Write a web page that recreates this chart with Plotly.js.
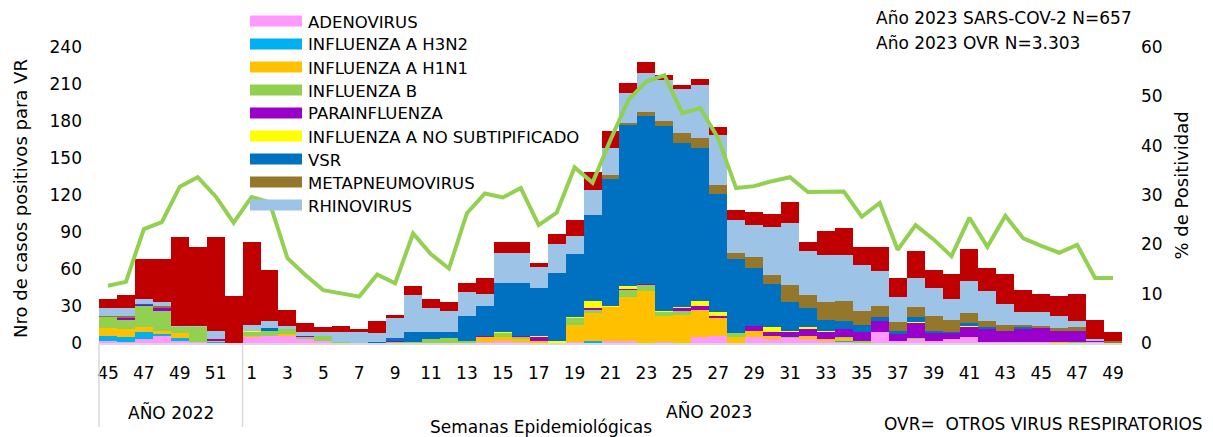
<!DOCTYPE html>
<html><head><meta charset="utf-8">
<script src="https://cdn.plot.ly/plotly-3.0.1.min.js"></script>
<style>html,body{margin:0;padding:0;background:#fff}#chart{width:1213px;height:437px}</style>
</head><body><div id="chart"></div>
<script>
// ---- categories ----
const weeks2022 = [45,46,47,48,49,50,51,52];
const weeks2023 = [1,2,3,4,5,6,7,8,9,10,11,12,13,14,15,16,17,18,19,20,21,22,23,24,25,26,27,28,29,30,31,32,33,34,35,36,37,38,39,40,41,42,43,44,45,46,47,48,49];
const tickWeeks = ['45','47','49','51','1','3','5','7','9','11','13','15','17','19','21','23','25','27','29','31','33','35','37','39','41','43','45','47','49'];

// ---- series (2022 wk45-52, then 2023 wk1-49) ----
const adenovirus = [2,1,3,6,2,1,0,0, 5,6,6,3,2,0,0,0,0,0, 0,0,0,1,2,1,0,0,1,0, 2,2,0,1,0,5,6,0,5,3, 4,3,2,1,0,9,2,3,2,3, 5,1,1,1,1,0,0,1,0];
const h3n2 = [4,4,6,1,2,0,1,0, 0,0,0,0,0,0,0,0,0,0, 0,0,0,0,0,0,0,0,0,2, 0,0,0,0,0,0,0,0,0,0, 0,0,0,1,0,0,0,0,0,0, 0,0,0,0,0,0,0,0,0];
const h1n1 = [6,6,4,3,4,0,1,0, 1,0,1,0,0,0,0,0,0,0, 0,0,0,4,3,2,2,0,14,22, 27,35,42,21,23,22,14,5,5,3, 0,3,1,2,0,0,0,0,0,0, 0,0,0,0,0,1,0,0,0];
const influenzaB = [9,8,17,16,5,12,0,0, 3,4,4,2,4,1,0,0,1,1, 3,4,2,0,3,2,0,0,5,3, 0,6,5,3,3,0,0,3,0,0, 1,0,0,1,2,0,0,1,0,0, 0,0,0,0,0,0,1,0,0];
const parainfluenza = [0,1,1,2,0,0,1,0, 0,0,0,1,0,0,0,0,1,0, 0,0,0,1,0,1,3,0,0,1, 0,1,1,0,2,3,2,0,4,3, 4,5,6,6,7,9,5,12,6,5, 8,10,9,10,11,9,9,1,0];
const noSubtipificado = [0,0,0,0,0,0,0,0, 1,0,0,0,0,0,0,0,0,0, 0,0,0,0,1,0,1,2,1,6, 1,2,0,1,1,4,3,0,0,4, 1,2,1,0,0,0,0,1,0,0, 1,0,0,0,0,0,0,0,0];
const vsr = [0,0,1,0,0,0,0,0, 0,2,0,0,0,0,0,1,2,8, 6,5,20,24,40,43,39,55,51,70, 103,131,136,150,133,124,96,60,47,35, 23,15,9,7,6,3,3,4,2,1, 2,2,0,2,0,0,0,0,0];
const metapneumovirus = [1,2,0,2,0,0,0,0, 0,0,0,0,0,0,0,0,0,0, 0,0,0,0,0,0,0,0,0,0, 3,1,3,4,8,8,7,5,9,7, 14,11,14,16,11,9,7,8,12,10, 8,5,5,2,2,2,3,0,2];
const rhinovirus = [6,6,4,3,1,1,7,0, 5,6,3,3,3,8,9,7,16,30, 19,17,19,10,24,24,17,23,15,20, 22,25,32,33,36,43,41,27,26,39, 50,36,38,37,37,28,20,24,23,17, 26,24,17,10,11,10,5,1,0];
const sarsCov2 = [8,11,32,35,72,64,76,38, 67,41,13,7,4,5,2,10,3,7, 8,7,8,13,9,9,3,8,13,15, 14,8,9,4,3,5,6,8,10,11, 17,7,20,22,15,20,16,22,14,20, 26,19,24,18,15,16,22,16,7];
const positividad = [11.6,12.4,23.1,24.5,31.7,33.6,29.7,24.4, 29.6,28.5,17.2,13.8,10.7,10.1,9.4,13.9,12.1,22.2, 18.0,15.1,26.3,30.3,29.5,31.4,23.9,26.4,35.6,32.5, 41.2,49.3,53.0,54.3,46.6,47.6,41.5,31.4,31.8,32.8, 33.6,30.6,30.6,30.7,25.6,28.4,18.9,23.9,21.0,17.6, 25.4,19.5,25.8,21.2,19.7,18.3,19.9,13.2,13.2];

const seriesNames = ['ADENOVIRUS','INFLUENZA A H3N2','INFLUENZA A H1N1','INFLUENZA B','PARAINFLUENZA','INFLUENZA A NO SUBTIPIFICADO','VSR','METAPNEUMOVIRUS','RHINOVIRUS','SARS-COV-2'];
const seriesColors = ['#FF99FF','#00B0F0','#FFC000','#92D050','#9900CC','#FFFF00','#0070C0','#94772A','#9DC3E6','#C00000'];
const seriesData = [adenovirus,h3n2,h1n1,influenzaB,parainfluenza,noSubtipificado,vsr,metapneumovirus,rhinovirus,sarsCov2];

const categories = weeks2022.map(w => '2022-' + w).concat(weeks2023.map(w => '2023-' + w));
const tickVals = categories.filter((c, i) => i % 2 === 0);

const traces = seriesData.map((d, i) => ({
  type: 'bar', x: categories, y: d, name: seriesNames[i],
  marker: {color: seriesColors[i], line: {width: 0}},
  showlegend: false, hoverinfo: 'name+y'
}));
traces.push({
  type: 'scatter', mode: 'lines', x: categories, y: positividad, yaxis: 'y2',
  name: '% Positividad', line: {color: '#92D050', width: 4}, showlegend: false
});

// ---- geometry helpers (pixel -> paper) ----
const L = 99, W = 1023, T = 47, H = 296;
const px = x => (x - L) / W;
const py = y => (T + H - y) / H;

const shapes = [
  {type:'line', xref:'paper', yref:'paper', x0:0, x1:0, y0:0, y1:py(427), line:{color:'#d9d9d9', width:1.5}},
  {type:'line', xref:'paper', yref:'paper', x0:8/57, x1:8/57, y0:0, y1:py(427), line:{color:'#d9d9d9', width:1.5}}
];
const annotations = [];
const legendRows = [21,44,67,90,113,136,159,182,205];
legendRows.forEach((c, i) => {
  shapes.push({type:'rect', xref:'paper', yref:'paper', x0:px(250), x1:px(302), y0:py(c+5.5), y1:py(c-5.5), fillcolor:seriesColors[i], line:{width:0}});
  annotations.push({xref:'paper', yref:'paper', x:px(306), y:py(c+1), xanchor:'left', yanchor:'middle', text:seriesNames[i], showarrow:false, font:{size:16.5}});
});
const txt = (t, x, y, opts) => Object.assign({xref:'paper', yref:'paper', x:px(x), y:py(y), text:t, showarrow:false, xanchor:'center', yanchor:'middle'}, opts || {});
annotations.push(txt('Año 2023 SARS-COV-2 N=657', 874, 18, {xanchor:'left'}));
annotations.push(txt('Año 2023 OVR N=3.303', 874, 43, {xanchor:'left'}));
annotations.push(txt('AÑO 2022', 171, 412));
annotations.push(txt('AÑO 2023', 708.5, 411));
annotations.push(txt('Semanas Epidemiológicas', 540.5, 427));
annotations.push(txt('OVR=\u00a0 OTROS VIRUS RESPIRATORIOS', 1043.5, 424));
annotations.push(txt('Nro de casos positivos para VR', 20, 199, {textangle:-90, font:{size:18}}));
annotations.push(txt('% de Positividad', 1181, 185.5, {textangle:-90, font:{size:18}}));

const layout = {
  width: 1213, height: 437,
  margin: {l: L, r: 1213 - L - W, t: T, b: 437 - T - H, pad: 0},
  paper_bgcolor: '#ffffff', plot_bgcolor: '#ffffff',
  barmode: 'stack', bargap: 0,
  font: {family: 'DejaVu Sans', size: 17, color: '#000000'},
  showlegend: false,
  xaxis: {type: 'category', categoryorder: 'array', categoryarray: categories, range: [-0.5, 56.5],
    tickmode: 'array', tickvals: tickVals, ticktext: tickWeeks, tickangle: 0, ticks: '',
    showline: true, linecolor: '#d9d9d9', linewidth: 1.5, showgrid: false, zeroline: false,
    ticklabelstandoff: 14, tickfont: {size: 17}},
  yaxis: {range: [0, 240], tickmode: 'array', tickvals: [0,30,60,90,120,150,180,210,240],
    showgrid: false, zeroline: false, showline: false, ticks: '', ticklabelstandoff: 16, tickfont: {size: 17}},
  yaxis2: {overlaying: 'y', side: 'right', range: [0, 60], tickmode: 'array', tickvals: [0,10,20,30,40,50,60],
    showgrid: false, zeroline: false, showline: false, ticks: '', ticklabelstandoff: 18, tickfont: {size: 17}},
  shapes: shapes, annotations: annotations
};
Plotly.newPlot('chart', traces, layout, {displayModeBar: false, staticPlot: true});
</script>
</body></html>
